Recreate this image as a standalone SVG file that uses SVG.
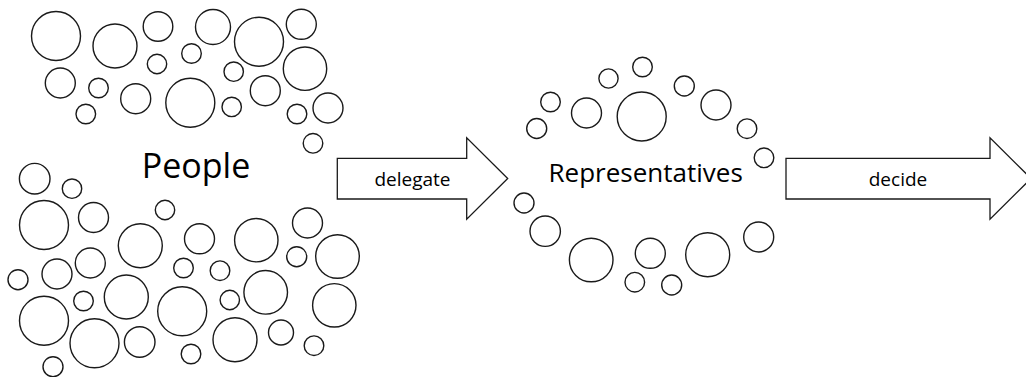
<svg xmlns="http://www.w3.org/2000/svg" width="1026" height="377" viewBox="0 0 1026 377">
<style>
circle{fill:#fff;stroke:#1a1a1a;stroke-width:1.4}
.arrow{fill:#fff;stroke:#1a1a1a;stroke-width:1.3}
text{font-family:"Open Sans","DejaVu Sans",sans-serif;fill:#000}
.lbl{font-size:19px;text-anchor:middle}
</style>
<rect width="1026" height="377" fill="#fff"/>
<g id="people">
<circle cx="56" cy="36" r="24.5"/>
<circle cx="115" cy="46" r="22"/>
<circle cx="158" cy="26.5" r="14.8"/>
<circle cx="213" cy="27" r="17.5"/>
<circle cx="259" cy="41.7" r="24.5"/>
<circle cx="301.3" cy="24.3" r="15"/>
<circle cx="191.5" cy="53.5" r="9.8"/>
<circle cx="157" cy="64" r="9.7"/>
<circle cx="305" cy="68.7" r="21.7"/>
<circle cx="233.7" cy="71.7" r="9.7"/>
<circle cx="60.3" cy="83" r="15"/>
<circle cx="98.5" cy="88" r="9.8"/>
<circle cx="135.7" cy="98.7" r="15"/>
<circle cx="190.3" cy="102.7" r="24.5"/>
<circle cx="265.3" cy="90.7" r="15"/>
<circle cx="231.7" cy="106.9" r="9.7"/>
<circle cx="85.8" cy="114" r="9.8"/>
<circle cx="297" cy="114" r="9.8"/>
<circle cx="328" cy="108" r="15"/>
<circle cx="313" cy="143.3" r="9.8"/>
<circle cx="34.7" cy="178.7" r="15.3"/>
<circle cx="72" cy="188.7" r="9.7"/>
<circle cx="44" cy="225" r="24.5"/>
<circle cx="93.5" cy="217.5" r="15"/>
<circle cx="165" cy="210" r="9.7"/>
<circle cx="140.3" cy="245.7" r="22"/>
<circle cx="199.5" cy="238.8" r="15"/>
<circle cx="256.3" cy="240.2" r="21.7"/>
<circle cx="307.5" cy="223" r="15"/>
<circle cx="296.7" cy="256.7" r="10"/>
<circle cx="337.5" cy="256.5" r="21.8"/>
<circle cx="18" cy="279.7" r="10"/>
<circle cx="57" cy="274" r="15"/>
<circle cx="90.3" cy="263" r="15"/>
<circle cx="183.5" cy="268" r="9.8"/>
<circle cx="220" cy="270.7" r="9.8"/>
<circle cx="44" cy="320.7" r="24.5"/>
<circle cx="83.5" cy="301" r="9.8"/>
<circle cx="126.3" cy="297" r="22"/>
<circle cx="182.2" cy="311.3" r="24.5"/>
<circle cx="229.8" cy="300" r="9.7"/>
<circle cx="265.7" cy="292.3" r="21.8"/>
<circle cx="334.3" cy="305.3" r="21.7"/>
<circle cx="94.5" cy="343.3" r="24.5"/>
<circle cx="139.7" cy="342" r="15.3"/>
<circle cx="191" cy="354" r="9.8"/>
<circle cx="235" cy="339.8" r="22"/>
<circle cx="281" cy="332.5" r="12.5"/>
<circle cx="314" cy="345.7" r="9.8"/>
<circle cx="53" cy="366.7" r="10"/>
<text x="196" y="177.5" font-size="34" text-anchor="middle">People</text>
</g>
<g id="representatives">
<circle cx="642.5" cy="67" r="9.8"/>
<circle cx="608.5" cy="78.5" r="9.6"/>
<circle cx="550.5" cy="102" r="9.8"/>
<circle cx="536.7" cy="128.5" r="10"/>
<circle cx="586.5" cy="113" r="15"/>
<circle cx="641.7" cy="116.5" r="24.5"/>
<circle cx="684.3" cy="86" r="10"/>
<circle cx="716" cy="105" r="15"/>
<circle cx="747" cy="128.7" r="9.8"/>
<circle cx="764" cy="157.8" r="9.8"/>
<circle cx="524" cy="203" r="10"/>
<circle cx="545.2" cy="231.2" r="15.2"/>
<circle cx="591.2" cy="260" r="21.8"/>
<circle cx="650.3" cy="253.3" r="15"/>
<circle cx="634.8" cy="282.2" r="9.8"/>
<circle cx="671.7" cy="285" r="10"/>
<circle cx="707.7" cy="254.7" r="22"/>
<circle cx="758.7" cy="237" r="15"/>
<text x="645.7" y="181.5" font-size="26" text-anchor="middle">Representatives</text>
</g>
<g id="connectors">
<g id="delegate">
<polygon class="arrow" points="337.3,158.3 466.7,158.3 466.7,137.7 507.7,178.5 466.7,219.3 466.7,199 337.3,199"/>
<text class="lbl" x="412.5" y="185.5">delegate</text>
</g>
<g id="decide">
<polygon class="arrow" points="786,158.3 990,158.3 990,137.7 1031,178.5 990,219.3 990,199 786,199"/>
<text class="lbl" x="898" y="185.5">decide</text>
</g>
</g>
</svg>
